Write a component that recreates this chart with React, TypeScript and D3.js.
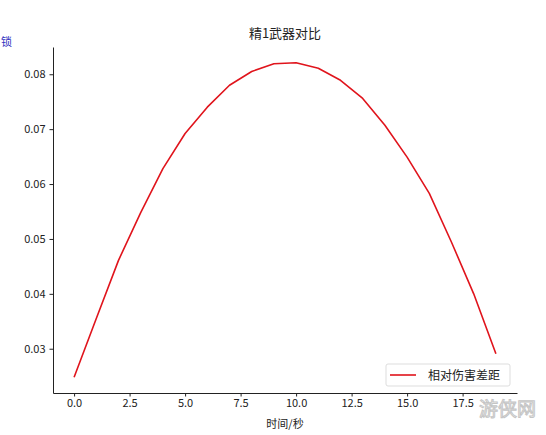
import React, { useEffect, useRef } from "react";
import * as d3 from "d3";

// 时间 (s) and relative damage gap
const seconds = [0, 1, 2, 3, 4, 5, 6, 7, 8, 9, 10, 11, 12, 13, 14, 15, 16, 17, 18, 19];
const damageGap = [
  0.0248, 0.0355, 0.0461, 0.0548, 0.0628, 0.0692, 0.074, 0.078, 0.0805, 0.0819,
  0.0821, 0.0811, 0.0789, 0.0756, 0.0707, 0.0649, 0.0583, 0.0494, 0.04, 0.0291,
];
const xTicks = [0, 2.5, 5, 7.5, 10, 12.5, 15, 17.5];
const yTicks = [0.03, 0.04, 0.05, 0.06, 0.07, 0.08];
const title = "精1武器对比";
const xLabel = "时间/秒";
const seriesName = "相对伤害差距";

const FONT = "'Noto Sans CJK SC', 'DejaVu Sans', sans-serif";

export default function App() {
  const svgRef = useRef<SVGSVGElement | null>(null);

  useEffect(() => {
    const svg = d3.select(svgRef.current);
    svg.selectAll("*").remove();

    const width = 546, height = 435;
    const margin = { top: 47, right: 29, bottom: 42, left: 53 };

    // matplotlib-style 5% padding around the data
    const xPad = (d3.max(seconds)! - d3.min(seconds)!) * 0.05;
    const yMin = d3.min(damageGap)!, yMax = d3.max(damageGap)!;
    const yPad = (yMax - yMin) * 0.05;

    const x = d3
      .scaleLinear()
      .domain([d3.min(seconds)! - xPad, d3.max(seconds)! + xPad])
      .range([margin.left, width - margin.right]);
    const y = d3
      .scaleLinear()
      .domain([yMin - yPad, yMax + yPad])
      .range([height - margin.bottom, margin.top]);

    svg.append("rect").attr("width", width).attr("height", height).attr("fill", "white");

    const xAxis = svg
      .append("g")
      .attr("transform", `translate(0,${height - margin.bottom})`)
      .call(
        d3.axisBottom(x)
          .tickValues(xTicks)
          .tickFormat(d => d3.format(".1f")(d as number))
          .tickSizeInner(3.5)
          .tickSizeOuter(0)
          .tickPadding(3)
      );
    const yAxis = svg
      .append("g")
      .attr("transform", `translate(${margin.left},0)`)
      .call(
        d3.axisLeft(y)
          .tickValues(yTicks)
          .tickFormat(d => d3.format(".2f")(d as number))
          .tickSizeInner(3.5)
          .tickSizeOuter(0)
          .tickPadding(4)
      );
    [xAxis, yAxis].forEach(g => {
      g.select(".domain").attr("stroke", "#222").attr("stroke-width", 1);
      g.selectAll(".tick line").attr("stroke", "#222");
      g.selectAll(".tick text")
        .attr("fill", "#222")
        .style("font-family", FONT)
        .style("font-size", "11px");
    });

    const line = d3
      .line<number>()
      .x((_, i) => x(seconds[i]))
      .y(d => y(d));

    svg
      .append("path")
      .datum(damageGap)
      .attr("d", line)
      .attr("fill", "none")
      .attr("stroke", "#e0141c")
      .attr("stroke-width", 1.6)
      .attr("stroke-linejoin", "round");

    svg
      .append("text")
      .attr("x", (margin.left + width - margin.right) / 2)
      .attr("y", 38)
      .attr("text-anchor", "middle")
      .style("font-family", FONT)
      .style("font-size", "13px")
      .attr("fill", "#222")
      .text(title);

    svg
      .append("text")
      .attr("x", (margin.left + width - margin.right) / 2)
      .attr("y", 428)
      .attr("text-anchor", "middle")
      .style("font-family", FONT)
      .style("font-size", "11px")
      .attr("fill", "#222")
      .text(xLabel);

    // legend, lower right
    const lg = svg.append("g").attr("transform", "translate(386,364)");
    lg.append("rect")
      .attr("width", 124)
      .attr("height", 22)
      .attr("rx", 2)
      .attr("fill", "white")
      .attr("stroke", "#ddd");
    lg.append("line")
      .attr("x1", 4)
      .attr("x2", 30)
      .attr("y1", 11)
      .attr("y2", 11)
      .attr("stroke", "#e0141c")
      .attr("stroke-width", 1.6);
    lg.append("text")
      .attr("x", 42)
      .attr("y", 15.5)
      .style("font-family", FONT)
      .style("font-size", "12px")
      .attr("fill", "#222")
      .text(seriesName);

    // stray glyph in the top-left corner and the watermark
    svg
      .append("text")
      .attr("x", 1)
      .attr("y", 46)
      .style("font-family", FONT)
      .style("font-size", "11px")
      .attr("fill", "#3030c0")
      .text("锁");
    svg
      .append("text")
      .attr("x", 479)
      .attr("y", 416)
      .style("font-family", FONT)
      .style("font-size", "19px")
      .attr("fill", "white")
      .attr("stroke", "#bbb")
      .attr("stroke-width", 1)
      .attr("opacity", 0.85)
      .text("游侠网");
  }, []);

  return (
    <svg
      ref={svgRef}
      width={546}
      height={435}
      style={{ position: "absolute", left: 0, top: 0 }}
    ></svg>
  );
}
